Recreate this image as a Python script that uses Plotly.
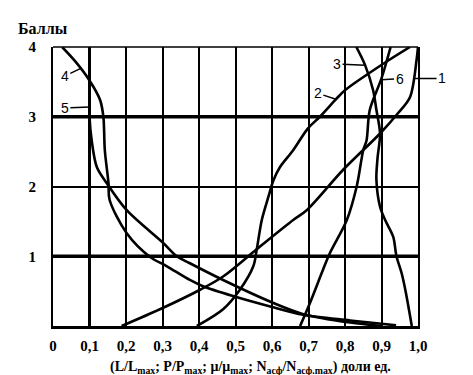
import plotly.graph_objects as go

# ---- data ----
c1_x = [0.188, 0.293, 0.403, 0.466, 0.558, 0.658, 0.695, 0.795, 0.896, 0.945, 0.978, 0.996, 1.0]
c1_y = [0.0, 0.24, 0.52, 0.71, 1.10, 1.52, 1.66, 2.24, 2.76, 3.05, 3.28, 3.81, 4.0]

c2_x = [0.394, 0.466, 0.512, 0.549, 0.558, 0.572, 0.590, 0.604, 0.622, 0.658, 0.698, 0.731, 0.775, 0.800, 0.905, 0.978]
c2_y = [0.0, 0.24, 0.52, 0.86, 1.09, 1.52, 1.85, 2.09, 2.28, 2.52, 2.83, 3.00, 3.25, 3.38, 3.76, 4.0]

c3_x = [0.831, 0.855, 0.877, 0.886, 0.896, 0.889, 0.886, 0.896, 0.910, 0.932, 0.941, 0.955, 0.966, 0.983]
c3_y = [4.0, 3.74, 3.38, 3.10, 2.76, 2.40, 2.10, 1.71, 1.52, 1.28, 1.00, 0.76, 0.50, 0.0]

c4_x = [0.025, 0.060, 0.100, 0.129, 0.138, 0.142, 0.152, 0.155, 0.202, 0.266, 0.311, 0.375, 0.411, 0.493, 0.595, 0.686, 0.814, 0.940]
c4_y = [4.0, 3.80, 3.52, 3.24, 3.00, 2.52, 2.05, 1.81, 1.33, 0.99, 0.86, 0.66, 0.57, 0.43, 0.28, 0.16, 0.08, 0.01]

c5_x = [0.100, 0.100, 0.100, 0.106, 0.120, 0.147, 0.202, 0.302, 0.339, 0.375, 0.466, 0.604, 0.686, 0.814, 0.900]
c5_y = [4.0, 3.50, 3.00, 2.66, 2.28, 2.05, 1.66, 1.19, 1.00, 0.90, 0.66, 0.33, 0.17, 0.05, 0.0]

c6_x = [0.925, 0.900, 0.868, 0.859, 0.850, 0.832, 0.805, 0.759, 0.740, 0.704, 0.677]
c6_y = [4.0, 3.55, 3.10, 2.66, 2.52, 2.00, 1.52, 1.05, 0.81, 0.33, 0.0]

curves = [(c1_x, c1_y), (c2_x, c2_y), (c3_x, c3_y), (c4_x, c4_y), (c5_x, c5_y), (c6_x, c6_y)]

# curve labels: name, point on curve, text offset (px)
label_names = ["1", "2", "3", "4", "5", "6"]
label_x = [0.992, 0.775, 0.855, 0.079, 0.101, 0.900]
label_y = [3.55, 3.25, 3.74, 3.70, 3.14, 3.53]
label_ax = [27, -18, -28, -17, -25, 18]
label_ay = [0, -6, -1, 8, 1, -1]

x_ticks = [0, 0.1, 0.2, 0.3, 0.4, 0.5, 0.6, 0.7, 0.8, 0.9, 1.0]
x_ticktext = ["0", "0,1", "0,2", "0,3", "0,4", "0,5", "0,6", "0,7", "0,8", "0,9", "1,0"]
y_ticks = [1, 2, 3, 4]
y_ticktext = ["1", "2", "3", "4"]

serif = "'Liberation Serif', 'DejaVu Serif', serif"

fig = go.Figure()
for cx, cy in curves:
    fig.add_trace(go.Scatter(x=cx, y=cy, mode="lines",
                             line=dict(color="black", width=2.6, shape="spline", smoothing=0.9),
                             showlegend=False, hoverinfo="skip", cliponaxis=True))

annotations = []
for n, x, y, ax, ay in zip(label_names, label_x, label_y, label_ax, label_ay):
    annotations.append(dict(x=x, y=y, xref="x", yref="y", text=n, showarrow=True,
                            arrowhead=0, arrowwidth=1.5, arrowcolor="black",
                            ax=ax, ay=ay, standoff=0,
                            font=dict(family="'Liberation Sans', Arial, sans-serif", size=14, color="black")))

annotations.append(dict(text="<b>Баллы</b>", xref="paper", yref="paper", x=-0.101, y=1.066,
                        xanchor="left", yanchor="middle", showarrow=False,
                        font=dict(family=serif, size=16, color="black")))
annotations.append(dict(text="<b>(L/L<sub>max</sub>; P/P<sub>max</sub>; μ/μ<sub>max</sub>; "
                             "N<sub>асф</sub>/N<sub>асф.max</sub>) доли ед.</b>",
                        xref="paper", yref="paper", x=0.54, y=-0.148,
                        xanchor="center", yanchor="middle", showarrow=False,
                        font=dict(family=serif, size=14, color="black")))

shapes = [
    # heavier grid lines
    dict(type="line", xref="paper", yref="y", x0=0, x1=1, y0=1, y1=1, line=dict(color="black", width=3.5)),
    dict(type="line", xref="paper", yref="y", x0=0, x1=1, y0=3, y1=3, line=dict(color="black", width=3.5)),
    dict(type="line", xref="x", yref="paper", x0=0.1, x1=0.1, y0=0, y1=1, line=dict(color="black", width=3)),
    # top border
    dict(type="line", xref="paper", yref="paper", x0=0, x1=1, y0=1, y1=1, line=dict(color="black", width=1.5)),
]

fig.update_layout(
    width=473, height=375,
    margin=dict(l=53, r=55, t=46.5, b=48.5),
    paper_bgcolor="white", plot_bgcolor="white",
    annotations=annotations, shapes=shapes,
    xaxis=dict(range=[0, 1], tickvals=x_ticks, ticktext=x_ticktext,
               showgrid=True, gridcolor="black", gridwidth=1.5,
               showline=True, linecolor="black", linewidth=3,
               zeroline=False, ticks="", ticklabelstandoff=4,
               tickfont=dict(family=serif, size=15, color="black", weight="bold"),
               fixedrange=True),
    yaxis=dict(range=[0, 4], tickvals=y_ticks, ticktext=y_ticktext,
               showgrid=True, gridcolor="black", gridwidth=1.5,
               showline=True, linecolor="black", linewidth=2, mirror=True,
               zeroline=False, ticks="", ticklabelstandoff=12,
               tickfont=dict(family=serif, size=15, color="black", weight="bold"),
               fixedrange=True),
)

fig.write_html("out.html", config={"displayModeBar": False},
               post_script="document.body.style.margin='0';document.body.style.overflow='hidden';")
